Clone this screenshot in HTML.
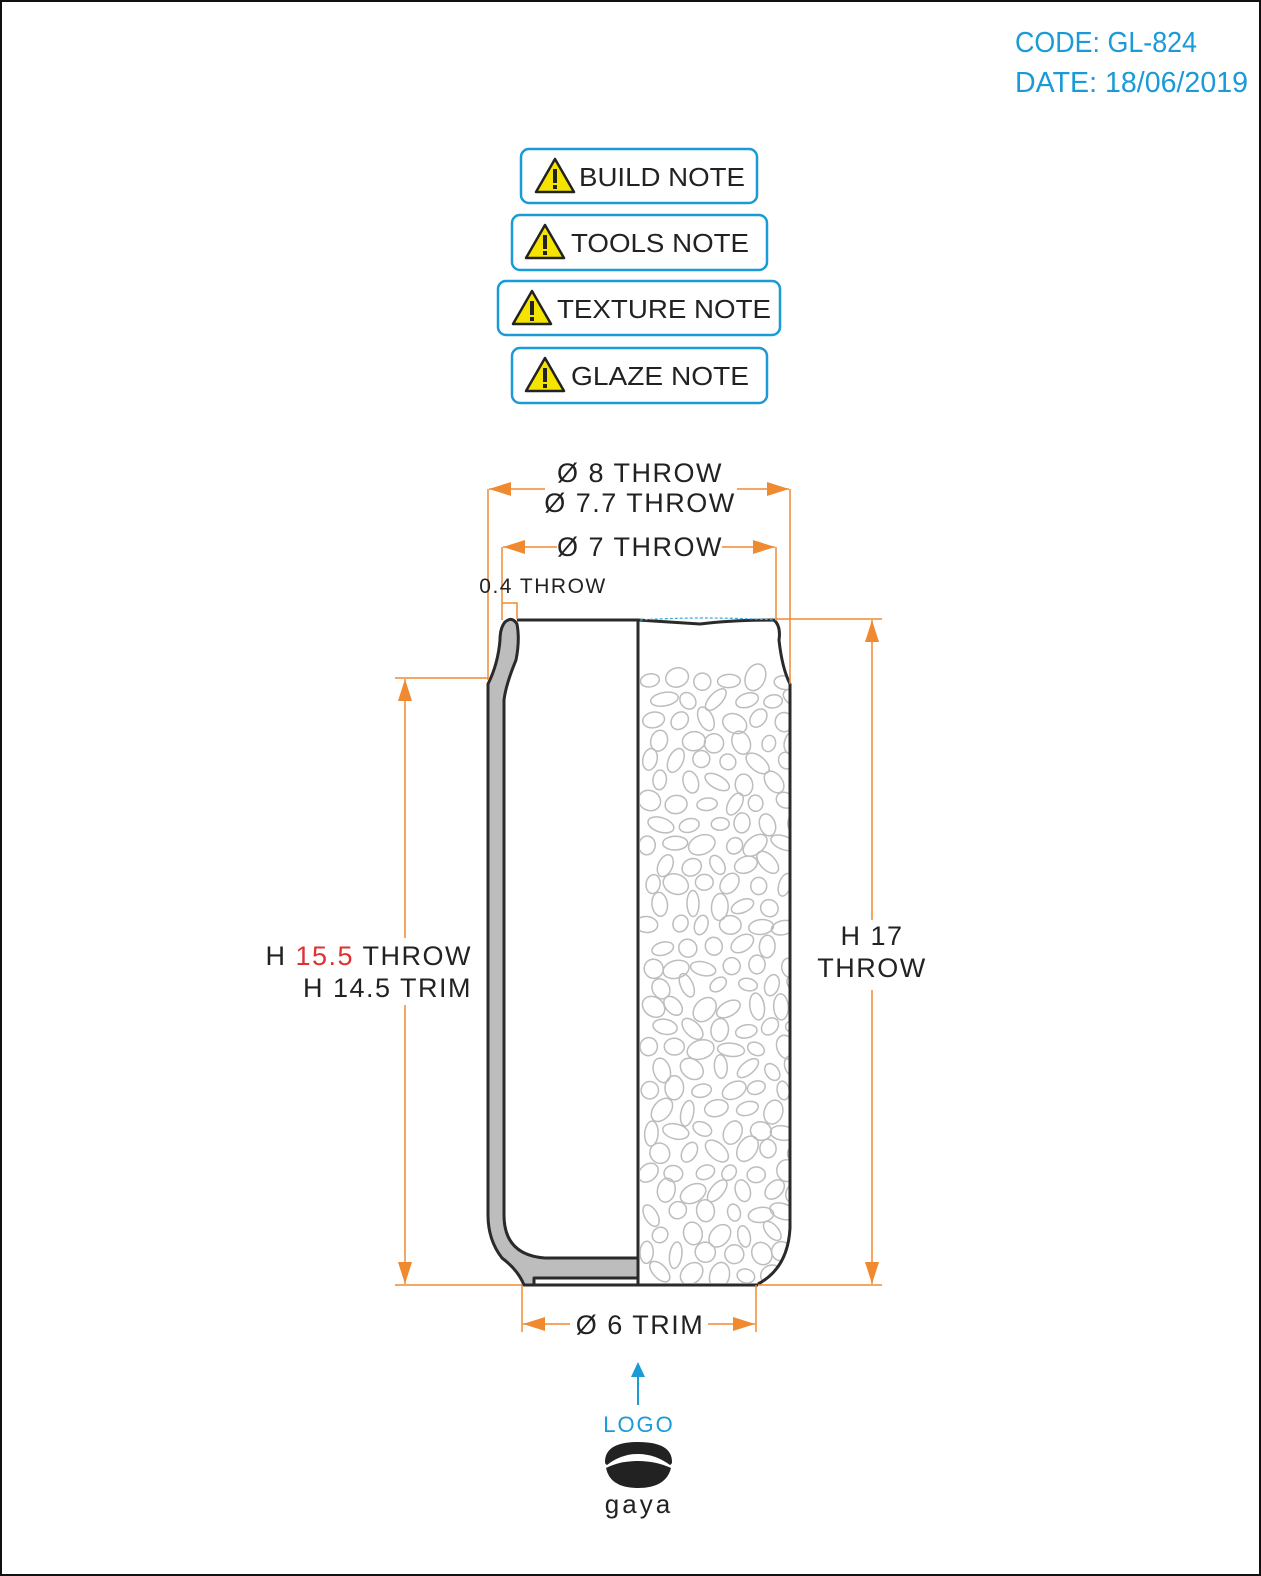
<!DOCTYPE html>
<html><head><meta charset="utf-8">
<style>
html,body{margin:0;padding:0;background:#fff}
svg{display:block}
text{font-family:"Liberation Sans",sans-serif}
</style></head>
<body>
<svg id="drw" width="1261" height="1576" viewBox="0 0 1261 1576" xmlns="http://www.w3.org/2000/svg">
<defs>
<marker id="ar" viewBox="0 0 10 10" refX="10" refY="5" markerWidth="22" markerHeight="14" orient="auto-start-reverse" markerUnits="userSpaceOnUse" preserveAspectRatio="none"><path d="M0,0 L10,5 L0,10 z" fill="#f08a30"/></marker>
<clipPath id="rc"><path d="M640,621 L776,621 Q782,628 780,640 Q784,668 790,682 L790,1228 Q788,1268 758,1283 L640,1283 Z"/></clipPath>
<g id="warn"><path d="M0,34 L19,1 L38,34 Z" fill="#f5e400" stroke="#222" stroke-width="2.5" stroke-linejoin="round"/><rect x="17" y="11" width="4" height="14" fill="#222"/><rect x="17" y="27" width="4" height="4" fill="#222"/></g>
</defs>
<rect x="1" y="1" width="1259" height="1574" fill="#fff" stroke="#111" stroke-width="2"/>
<text x="1015" y="52" font-size="29" fill="#1a9ad6" textLength="182" lengthAdjust="spacingAndGlyphs">CODE: GL-824</text>
<text x="1015" y="92" font-size="29" fill="#1a9ad6" textLength="233" lengthAdjust="spacingAndGlyphs">DATE: 18/06/2019</text>

<g><rect x="521" y="149" width="236" height="54" rx="8" fill="#fff" stroke="#1a9ad6" stroke-width="2.5"/><use href="#warn" x="536" y="158"/><text x="579" y="186" font-size="26" fill="#222" textLength="166" lengthAdjust="spacingAndGlyphs">BUILD NOTE</text></g>
<g><rect x="512" y="215" width="255" height="55" rx="8" fill="#fff" stroke="#1a9ad6" stroke-width="2.5"/><use href="#warn" x="526" y="224"/><text x="571" y="252" font-size="26" fill="#222" textLength="178" lengthAdjust="spacingAndGlyphs">TOOLS NOTE</text></g>
<g><rect x="498" y="281" width="282" height="54" rx="8" fill="#fff" stroke="#1a9ad6" stroke-width="2.5"/><use href="#warn" x="513" y="290"/><text x="557" y="318" font-size="26" fill="#222" textLength="214" lengthAdjust="spacingAndGlyphs">TEXTURE NOTE</text></g>
<g><rect x="512" y="348" width="255" height="55" rx="8" fill="#fff" stroke="#1a9ad6" stroke-width="2.5"/><use href="#warn" x="526" y="357"/><text x="571" y="385" font-size="26" fill="#222" textLength="178" lengthAdjust="spacingAndGlyphs">GLAZE NOTE</text></g>

<g id="dots" clip-path="url(#rc)" fill="none" stroke="#bdbdbd" stroke-width="1.5"></g>

<g stroke="#2a2a2a" stroke-width="3" stroke-linejoin="round">
<path fill="#bdbdbd" d="M505,622 Q512,616 517,624 Q520,640 516,660 Q506,684 504,700 L504,1215 Q504,1255 545,1258 L638,1258 L638,1278 L534,1278 L534,1285 L524,1285 Q518,1270 502,1258 Q488,1240 488,1215 L488,684 Q498,664 500,640 Q500,628 505,622 Z"/>
<line x1="517" y1="620" x2="638" y2="620"/>
<line x1="638" y1="620" x2="638" y2="1285"/>
<line x1="534" y1="1285" x2="758" y2="1285"/>
<path fill="none" d="M638,620 L700,624 Q730,620 774,620 Q781,626 779,640 Q782,668 790,684 L790,1228 Q788,1268 758,1284"/>
</g>
<path d="M640,620 Q700,616 776,620" fill="none" stroke="#3aa8dd" stroke-width="1.2" stroke-dasharray="3,2"/>

<g stroke="#f08a30" stroke-width="1.5" fill="none">
<line x1="488" y1="489" x2="488" y2="680"/><line x1="790" y1="489" x2="790" y2="684"/>
<line x1="489" y1="489" x2="545" y2="489" marker-start="url(#ar)"/><line x1="737" y1="489" x2="789" y2="489" marker-end="url(#ar)"/>
<line x1="502" y1="547" x2="502" y2="620"/><line x1="776" y1="547" x2="776" y2="620"/>
<line x1="503" y1="547" x2="557" y2="547" marker-start="url(#ar)"/><line x1="722" y1="547" x2="775" y2="547" marker-end="url(#ar)"/>
<path d="M502,603 L517,603 L517,619"/>
<line x1="395" y1="678" x2="488" y2="678"/><line x1="395" y1="1285" x2="522" y2="1285"/>
<line x1="405" y1="679" x2="405" y2="938" marker-start="url(#ar)"/><line x1="405" y1="1005" x2="405" y2="1284" marker-end="url(#ar)"/>
<line x1="776" y1="619" x2="882" y2="619"/><line x1="758" y1="1285" x2="882" y2="1285"/>
<line x1="872" y1="620" x2="872" y2="920" marker-start="url(#ar)"/><line x1="872" y1="990" x2="872" y2="1284" marker-end="url(#ar)"/>
<line x1="522" y1="1285" x2="522" y2="1332"/><line x1="756" y1="1285" x2="756" y2="1332"/>
<line x1="523" y1="1324" x2="570" y2="1324" marker-start="url(#ar)"/><line x1="708" y1="1324" x2="755" y2="1324" marker-end="url(#ar)"/>
</g>

<g font-size="27" fill="#222" text-anchor="middle" letter-spacing="1.5">
<text x="640" y="482">Ø 8 THROW</text>
<text x="640" y="512">Ø 7.7 THROW</text>
<text x="640" y="556">Ø 7 THROW</text>
<text x="543" y="593" font-size="21">0.4 THROW</text>
<text x="472" y="965" text-anchor="end">H <tspan fill="#e03030">15.5</tspan> THROW</text>
<text x="472" y="997" text-anchor="end">H 14.5 TRIM</text>
<text x="872" y="945">H 17</text>
<text x="872" y="977">THROW</text>
<text x="640" y="1334">Ø 6 TRIM</text>
</g>

<g><line x1="638" y1="1405" x2="638" y2="1375" stroke="#1a9ad6" stroke-width="2"/><path d="M631,1377 L638,1362 L645,1377 Z" fill="#1a9ad6"/></g>
<text x="639" y="1432" font-size="22" fill="#1a9ad6" text-anchor="middle" letter-spacing="2">LOGO</text>
<g>
<path d="M605,1462 Q605,1442 638,1442 Q672,1442 672,1462 Q672,1464 670,1465 Q655,1454 638,1454 Q621,1454 607,1465 Q605,1464 605,1462 Z" fill="#222"/>
<path d="M606,1468 Q620,1461 638,1461 Q656,1461 671,1468 Q666,1488 638,1488 Q610,1488 606,1468 Z" fill="#222"/>
<text x="639" y="1513" font-size="26" fill="#222" text-anchor="middle" letter-spacing="3">gaya</text>
</g>
</svg>
<script>
var g=document.getElementById('dots');
var s=7;
function r(){s=(s*9301+49297)%233280;return s/233280;}
for(var row=0;row<30;row++){for(var col=0;col<6;col++){
 var cx=650+col*27+(row%2)*13+(r()-0.5)*8;
 var cy=680+row*20.5+(r()-0.5)*6;
 var e=document.createElementNS('http://www.w3.org/2000/svg','ellipse');
 
 
 var a=6+r()*4,b=8+r()*6;
 e.setAttribute('cx',cx.toFixed(1));e.setAttribute('cy',cy.toFixed(1));
 e.setAttribute('rx',a.toFixed(1));e.setAttribute('ry',b.toFixed(1));
 e.setAttribute('transform','rotate('+Math.round(r()*180)+' '+cx.toFixed(1)+' '+cy.toFixed(1)+')');
 g.appendChild(e);
}}
</script>
</body></html>
